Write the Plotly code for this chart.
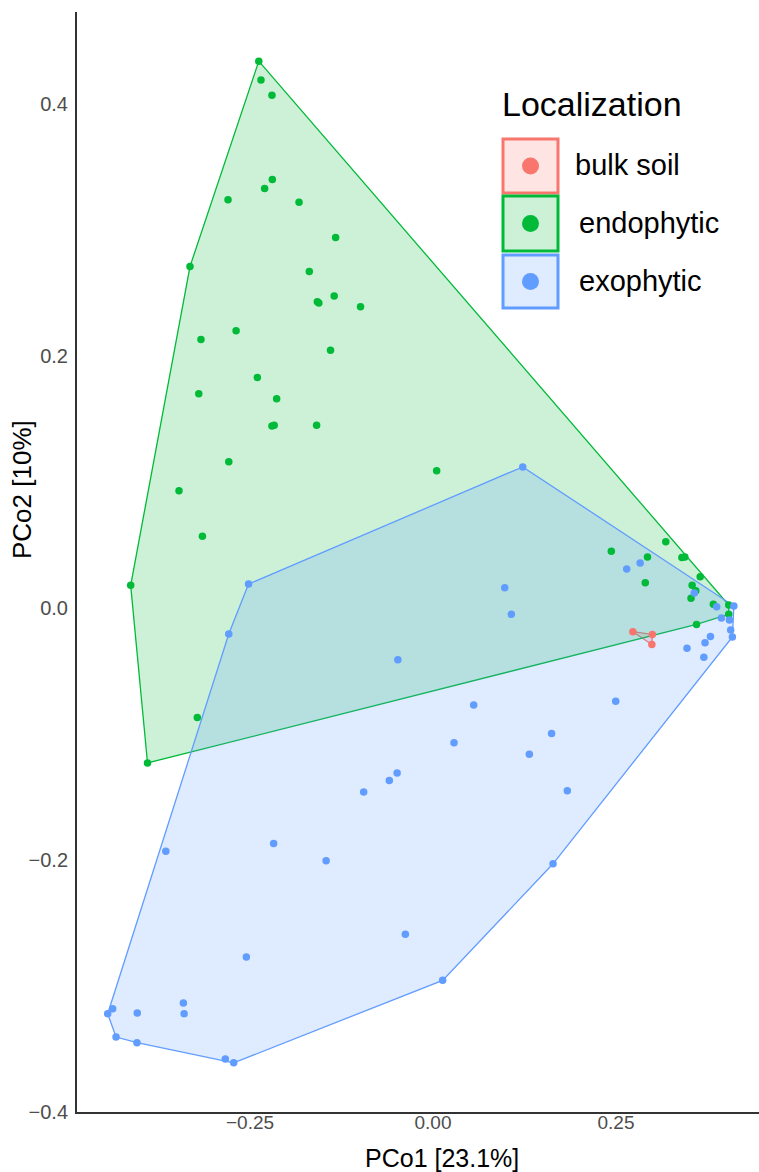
import plotly.graph_objects as go

# ---------------- data ----------------
groups = ["bulk soil", "endophytic", "exophytic"]

bulk_x = [0.273, 0.2996, 0.299]
bulk_y = [-0.0188, -0.021, -0.029]

endo_x = [-0.238, -0.235, -0.220, -0.2195, -0.230, -0.280, -0.183, -0.133, -0.332, -0.169,
          -0.135, -0.158, -0.156, -0.099, -0.269, -0.317, -0.140, -0.240, -0.320, -0.2136,
          -0.220, -0.217, -0.159, -0.279, 0.005, -0.347, -0.315, -0.413, -0.322, -0.390,
          0.318, 0.2436, 0.293, 0.340, 0.344, 0.365, 0.290, 0.354, 0.359, 0.3525,
          0.383, 0.404, 0.404, 0.360]
endo_y = [0.434, 0.419, 0.407, 0.340, 0.333, 0.324, 0.322, 0.294, 0.271, 0.267,
          0.2476, 0.243, 0.242, 0.239, 0.220, 0.213, 0.2045, 0.183, 0.170, 0.166,
          0.1444, 0.145, 0.145, 0.116, 0.109, 0.093, 0.057, 0.018, -0.087, -0.123,
          0.0526, 0.045, 0.0405, 0.040, 0.0405, 0.0249, 0.020, 0.018, 0.0137, 0.0077,
          0.003, 0.0024, -0.005, -0.013]

exo_x = [0.1226, 0.2646, 0.283, 0.098, 0.107, -0.252, -0.279, -0.048, 0.357, 0.3875,
         0.411, 0.394, 0.405, 0.4067, 0.409, 0.379, 0.3716, 0.347, 0.370, 0.0556,
         0.2496, 0.0287, 0.162, 0.1316, 0.1835, -0.049, -0.0597, -0.0947, -0.365, -0.2177,
         -0.146, 0.164, -0.0378, -0.255, 0.0132, -0.341, -0.340, -0.404, -0.4376, -0.4444,
         -0.433, -0.4044, -0.2837, -0.2723]
exo_y = [0.112, 0.031, 0.0357, 0.016, -0.005, 0.019, -0.0206, -0.041, 0.012, 0.001,
         0.0016, -0.008, -0.0095, -0.0175, -0.023, -0.0227, -0.0275, -0.032, -0.039, -0.077,
         -0.074, -0.107, -0.0997, -0.116, -0.145, -0.131, -0.137, -0.146, -0.193, -0.187,
         -0.2005, -0.203, -0.259, -0.277, -0.2955, -0.3135, -0.322, -0.3214, -0.318, -0.322,
         -0.3405, -0.345, -0.358, -0.361]

x_ticks = [-0.25, 0.0, 0.25]
y_ticks = [-0.4, -0.2, 0.0, 0.2, 0.4]

colors = {"bulk soil": "#F8766D", "endophytic": "#00BA38", "exophytic": "#619CFF"}
fills = {"bulk soil": "rgba(248,118,109,0.2)", "endophytic": "rgba(0,186,56,0.2)",
         "exophytic": "rgba(97,156,255,0.2)"}
series = {"bulk soil": (bulk_x, bulk_y), "endophytic": (endo_x, endo_y),
          "exophytic": (exo_x, exo_y)}


def convex_hull(xs, ys):
    pts = sorted(set(zip(xs, ys)))
    if len(pts) <= 2:
        return pts

    def cross(o, a, b):
        return (a[0] - o[0]) * (b[1] - o[1]) - (a[1] - o[1]) * (b[0] - o[0])

    lower, upper = [], []
    for p in pts:
        while len(lower) >= 2 and cross(lower[-2], lower[-1], p) <= 0:
            lower.pop()
        lower.append(p)
    for p in reversed(pts):
        while len(upper) >= 2 and cross(upper[-2], upper[-1], p) <= 0:
            upper.pop()
        upper.append(p)
    return lower[:-1] + upper[:-1]


fig = go.Figure()

# hulls
for g in groups:
    xs, ys = series[g]
    h = convex_hull(xs, ys)
    hx = [p[0] for p in h] + [h[0][0]]
    hy = [p[1] for p in h] + [h[0][1]]
    fig.add_trace(go.Scatter(x=hx, y=hy, mode="lines", fill="toself",
                             fillcolor=fills[g], line=dict(color=colors[g], width=1.3),
                             hoverinfo="skip", showlegend=False))
# points
for g in groups:
    xs, ys = series[g]
    fig.add_trace(go.Scatter(x=xs, y=ys, mode="markers", name=g,
                             marker=dict(color=colors[g], size=7.5, line=dict(width=0)),
                             showlegend=False))

W, H = 759, 1172
L, R, T, B = 77, 0, 12, 60
PW, PH = W - L - R, H - T - B


def px(x):
    return (x - L) / PW


def py(y):
    return (H - B - y) / PH


FONT = "Liberation Sans, Arial, sans-serif"

shapes = []
annotations = []

# manual legend
key_rows = [(139, 193), (196, 251), (255, 308)]
text_x = [573, 577, 577]
for g, (y0, y1), tx in zip(groups, key_rows, text_x):
    shapes.append(dict(type="rect", xref="paper", yref="paper",
                       x0=px(503), x1=px(558), y0=py(y1), y1=py(y0),
                       line=dict(color=colors[g], width=3), fillcolor=fills[g], layer="above"))
    cy = (y0 + y1) / 2
    shapes.append(dict(type="circle", xref="paper", yref="paper",
                       x0=px(530.5 - 8.5), x1=px(530.5 + 8.5), y0=py(cy + 8.5), y1=py(cy - 8.5),
                       line=dict(width=0), fillcolor=colors[g], layer="above"))
    annotations.append(dict(text=g, xref="paper", yref="paper", x=px(tx), y=py(cy - 1),
                            xanchor="left", yanchor="middle", showarrow=False,
                            font=dict(family=FONT, size=29, color="#000000")))

annotations.append(dict(text="Localization", xref="paper", yref="paper", x=px(500), y=py(104),
                        xanchor="left", yanchor="middle", showarrow=False,
                        font=dict(family=FONT, size=34, color="#000000")))

# axis titles
annotations.append(dict(text="PCo1 [23.1%]", xref="paper", yref="paper", x=px(442), y=py(1158),
                        xanchor="center", yanchor="middle", showarrow=False,
                        font=dict(family=FONT, size=25, color="#000000")))
annotations.append(dict(text="PCo2 [10%]", xref="paper", yref="paper", x=px(22), y=py(490),
                        xanchor="center", yanchor="middle", showarrow=False, textangle=-90,
                        font=dict(family=FONT, size=26, color="#000000")))

fig.update_layout(
    width=W, height=H,
    margin=dict(l=L, r=R, t=T, b=B, pad=0),
    paper_bgcolor="white", plot_bgcolor="white",
    shapes=shapes, annotations=annotations,
    showlegend=False,
    font=dict(family=FONT),
)
fig.update_xaxes(range=[(L - 433) / 732, (W - 433) / 732],
                 tickvals=x_ticks, tickformat=".2f",
                 showgrid=False, zeroline=False, showline=True,
                 linecolor="#333333", linewidth=2, ticks="", ticklabelstandoff=-8,
                 tickfont=dict(family=FONT, size=19, color="#4D4D4D"))
fig.update_yaxes(range=[(608 - 1112) / 1260, (608 - 12) / 1260],
                 tickvals=y_ticks, tickformat=".1f",
                 showgrid=False, zeroline=False, showline=True,
                 linecolor="#333333", linewidth=2, ticks="", ticklabelstandoff=3,
                 tickfont=dict(family=FONT, size=20, color="#4D4D4D"))

fig.write_html("out.html")
